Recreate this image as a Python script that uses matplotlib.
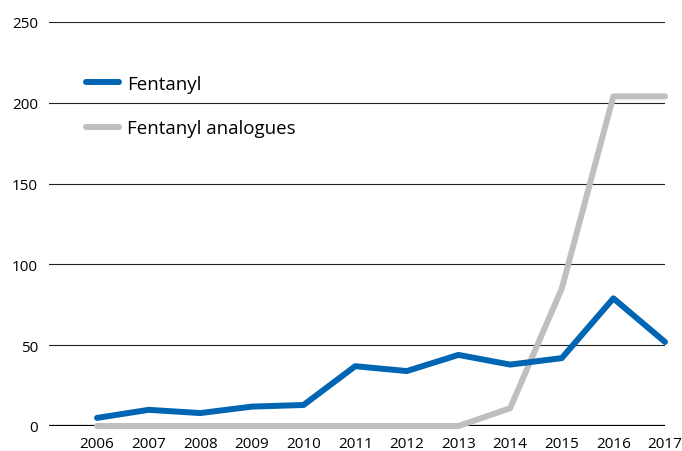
from matplotlib import pyplot as plt

YEARS = list(range(2006, 2018))
FENTANYL = [5, 10, 8, 12, 13, 37, 34, 44, 38, 42, 79, 52]
ANALOGUES = [0, 0, 0, 0, 0, 0, 0, 0, 11, 85, 204, 204]
YTICKS = [0, 50, 100, 150, 200, 250]

BLUE = '#0066b3'
GREY = '#bfbfbf'

plt.rcParams['font.family'] = ['Open Sans', 'DejaVu Sans']

fig = plt.figure(figsize = (6.82, 4.52), dpi = 100)
ax = fig.add_axes([49 / 682, 1 - 427 / 452, 616 / 682, 404 / 452])

# gridlines first so the data sits on top
for y in YTICKS[1:]:
  ax.axhline(y, color = '#222222', linewidth = 0.8, zorder = 1)
ax.axhline(0, color = 'black', linewidth = 1.6, zorder = 1)

ax.plot(YEARS, ANALOGUES, color = GREY, linewidth = 4.3, \
        solid_capstyle = 'round', solid_joinstyle = 'round', \
        label = 'Fentanyl analogues', zorder = 3, clip_on = False)
ax.plot(YEARS, FENTANYL, color = BLUE, linewidth = 4.3, \
        solid_capstyle = 'round', solid_joinstyle = 'round', \
        label = 'Fentanyl', zorder = 4, clip_on = False)

ax.set_xlim(2005.07, 2017)
ax.set_ylim(0, 250)
ax.set_xticks(YEARS)
ax.set_xticklabels([str(y) for y in YEARS], fontsize = 11)
ax.set_yticks(YTICKS)
ax.set_yticklabels([str(y) for y in YTICKS], fontsize = 11)
ax.tick_params(length = 0, pad = 8)
ax.tick_params(axis = 'x', pad = 7)

for s in ax.spines.values():
  s.set_visible(False)

handles, labels = ax.get_legend_handles_labels()
ax.legend(handles[::-1], labels[::-1], loc = 'upper left', \
          bbox_to_anchor = (0.032, 0.911), frameon = False, fontsize = 13.5, \
          handlelength = 1.8, handletextpad = 0.4, labelspacing = 1.4)

fig.savefig('out.png')
